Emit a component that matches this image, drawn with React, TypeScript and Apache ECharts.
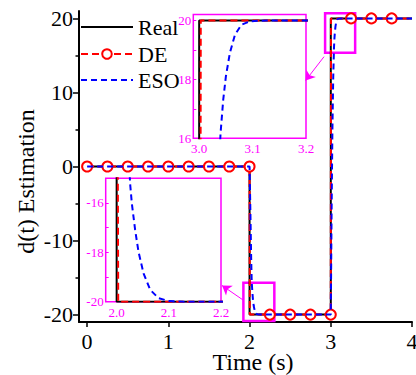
import React, { useEffect, useRef } from 'react';
import * as echarts from 'echarts';

// ---- data ----
const realTime = [0, 2, 2, 3, 3, 4];
const realValue = [0, 0, -20, -20, 20, 20];

const deTime = [0, 0.25, 0.5, 0.75, 1, 1.25, 1.5, 1.75, 2, 2.003, 2.25, 2.5, 2.75, 3, 3.003, 3.25, 3.5, 3.75, 4];
const deValue = [0, 0, 0, 0, 0, 0, 0, 0, 0, -20, -20, -20, -20, -20, 20, 20, 20, 20, 20];
const deMarker = [true, true, true, true, true, true, true, true, true, false, true, true, true, true, false, true, true, true, false];

const esoTime = [0, 2.0, 2.01, 2.02, 2.0257, 2.029, 2.0354, 2.0418, 2.0515, 2.0644, 2.0805, 2.0998, 2.13,
  3.0, 3.01, 3.02, 3.03, 3.04, 3.0419, 3.045, 3.05, 3.0575, 3.067, 3.079, 3.095, 3.126, 4.0];
const esoValue = [0, 0, -6, -12.5, -15.19, -16, -17.09, -17.97, -18.85, -19.52, -19.86, -19.97, -20,
  -20, -6, 5, 12, 16.17, 16.6, 17.3, 18.1, 18.9, 19.51, 19.85, 19.97, 20, 20];

const legendNames = ['Real', 'DE', 'ESO'];

const xTicks = [0, 1, 2, 3, 4];
const yTicks = [-20, -10, 0, 10, 20];
const yMinorTicks = [-15, -5, 5, 15];

const inset1XTicks = [3.0, 3.1, 3.2];
const inset1YLabels = [16, 18, 20];
const inset1YTicks = [16, 17, 18, 19, 20];
const inset2XTicks = [2.0, 2.1, 2.2];
const inset2YLabels = [-20, -18, -16];
const inset2YTicks = [-20, -19, -18, -17, -16];

// zoom boxes [x1, y1, x2, y2] and arrows [fromX, fromY, toX, toY] in main data coords
const zoomBoxes = [[2.93, 15.37, 3.3, 20.69], [1.924, -20.86, 2.305, -15.69]];
const arrows = [[2.917, 14.83, 2.69, 11.61], [1.92, -18.03, 1.661, -16.07]];

const SERIF = 'Liberation Serif';
const MAGENTA = '#ff00ff';
const RED = '#ff0000';
const BLUE = '#0000ff';

const pairs = (t: number[], v: number[]) => t.map((x, i) => [x, v[i]]);

function seriesFor(xi: number, yi: number, main: boolean, suffix: string) {
  const real: any = {
    name: 'Real' + suffix, type: 'line', xAxisIndex: xi, yAxisIndex: yi,
    data: pairs(realTime, realValue), symbol: 'none',
    lineStyle: { color: '#000', width: 2 }, itemStyle: { color: '#000' }, z: 2,
  };
  const de: any = {
    name: 'DE' + suffix, type: 'line', xAxisIndex: xi, yAxisIndex: yi,
    data: main
      ? deTime.map((t, i) => (deMarker[i] ? { value: [t, deValue[i]] } : { value: [t, deValue[i]], symbol: 'none' }))
      : pairs(deTime, deValue),
    symbol: main ? 'emptyCircle' : 'none', symbolSize: 10, showAllSymbol: true,
    lineStyle: { color: RED, width: 2, type: [7, 4] },
    itemStyle: { color: RED, borderWidth: 1 }, z: 2,
  };
  const eso: any = {
    name: 'ESO' + suffix, type: 'line', xAxisIndex: xi, yAxisIndex: yi,
    data: pairs(esoTime, esoValue), symbol: 'none',
    lineStyle: { color: BLUE, width: 2, type: [6, 4] }, itemStyle: { color: BLUE }, z: 3,
  };
  if (main) {
    real.markArea = {
      silent: true,
      label: { show: false },
      itemStyle: { color: 'rgba(0,0,0,0)', borderColor: MAGENTA, borderWidth: 2.5 },
      data: zoomBoxes.map((b) => [{ coord: [b[0], b[3]] }, { coord: [b[2], b[1]] }]),
    };
    real.markLine = {
      silent: true,
      symbol: ['none', 'arrow'],
      symbolSize: 9,
      label: { show: false },
      lineStyle: { color: MAGENTA, width: 1, type: 'solid' },
      data: arrows.map((a) => [{ coord: [a[0], a[1]] }, { coord: [a[2], a[3]] }]),
    };
  }
  return [real, de, eso];
}

function insetX(grid: number, min: number, max: number, labels: number[]) {
  return {
    type: 'value', gridIndex: grid, min, max,
    axisLine: { show: false, onZero: false }, axisTick: { show: false }, splitLine: { show: false },
    axisLabel: { customValues: labels, formatter: (v: number) => v.toFixed(1), color: MAGENTA, fontSize: 13, fontFamily: SERIF, margin: 4 },
  };
}
function insetY(grid: number, min: number, max: number, labels: number[], ticks: number[]) {
  return {
    type: 'value', gridIndex: grid, min, max, position: 'left',
    axisLine: { show: false, onZero: false },
    axisTick: { show: true, inside: true, length: 3, customValues: ticks, lineStyle: { color: MAGENTA, width: 1 } },
    splitLine: { show: false },
    axisLabel: { customValues: labels, color: MAGENTA, fontSize: 13, fontFamily: SERIF, margin: 2 },
  };
}

const legendTops = [16, 43, 69];

export default function App() {
  const ref = useRef<HTMLDivElement>(null);
  useEffect(() => {
    if (!ref.current) return;
    const chart = echarts.init(ref.current, undefined, { renderer: 'svg' });
    const option: any = {
      animation: false,
      backgroundColor: '#fff',
      textStyle: { fontFamily: SERIF },
      legend: legendNames.map((n, i) => ({
        orient: 'horizontal', left: 80, top: legendTops[i], itemWidth: 52, itemHeight: 12, padding: 0,
        selectedMode: false,
        textStyle: { fontFamily: SERIF, fontSize: 22, color: '#000', lineHeight: 12 },
        data: [n === 'DE' ? { name: n } : { name: n, itemStyle: { opacity: 0 } }],
      })),
      grid: [
        { left: 79, right: 4, top: 11, bottom: 53, outerBoundsMode: 'none' },
        { left: 193.3, top: 14.5, width: 112.7, height: 123.8, show: true, backgroundColor: '#fff', borderColor: MAGENTA, borderWidth: 1.5, outerBoundsMode: 'none' },
        { left: 105.7, top: 178.3, width: 115.3, height: 123.4, show: true, backgroundColor: '#fff', borderColor: MAGENTA, borderWidth: 1.5, outerBoundsMode: 'none' },
      ],
      xAxis: [
        {
          type: 'value', gridIndex: 0, min: -0.1, max: 4,
          name: 'Time (s)', nameLocation: 'middle', nameGap: 30, nameMoveOverlap: false,
          nameTextStyle: { fontFamily: SERIF, fontSize: 24, lineHeight: 20, color: '#000', padding: [0, 0, 0, 15] },
          axisLine: { onZero: false, lineStyle: { color: '#000', width: 2 } },
          axisTick: { customValues: xTicks, length: 5, lineStyle: { color: '#000', width: 1.5 } },
          splitLine: { show: false },
          axisLabel: { customValues: xTicks, fontFamily: SERIF, fontSize: 22, lineHeight: 20, color: '#000', margin: 9 },
        },
        insetX(1, 2.989, 3.2, inset1XTicks),
        insetX(2, 1.979, 2.2, inset2XTicks),
      ],
      yAxis: [
        {
          type: 'value', gridIndex: 0, min: -21, max: 21, position: 'left',
          name: 'd(t) Estimation', nameLocation: 'middle', nameGap: 41, nameRotate: 90, nameMoveOverlap: false,
          nameTextStyle: { fontFamily: SERIF, fontSize: 24, color: '#000', padding: [0, 30, 0, 0] },
          axisLine: { onZero: false, lineStyle: { color: '#000', width: 2 } },
          axisTick: { customValues: yTicks, length: 6, lineStyle: { color: '#000', width: 1.5 } },
          splitLine: { show: false },
          axisLabel: { customValues: yTicks, fontFamily: SERIF, fontSize: 22, color: '#000', margin: 6 },
        },
        {
          type: 'value', gridIndex: 0, min: -21, max: 21, position: 'left', offset: 0,
          axisLine: { show: false, onZero: false },
          axisTick: { customValues: yMinorTicks, length: 3.5, lineStyle: { color: '#000', width: 1.5 } },
          axisLabel: { show: false },
          splitLine: { show: false },
        },
        insetY(1, 16, 20.2, inset1YLabels, inset1YTicks),
        insetY(2, -20, -15, inset2YLabels, inset2YTicks),
      ],
      series: [
        ...seriesFor(0, 0, true, ''),
        ...seriesFor(1, 2, false, ' inset1'),
        ...seriesFor(2, 3, false, ' inset2'),
      ],
    };
    chart.setOption(option);
    return () => chart.dispose();
  }, []);
  return <div ref={ref} style={{ position: 'fixed', left: 0, top: 0, width: 416, height: 375 }} />;
}
